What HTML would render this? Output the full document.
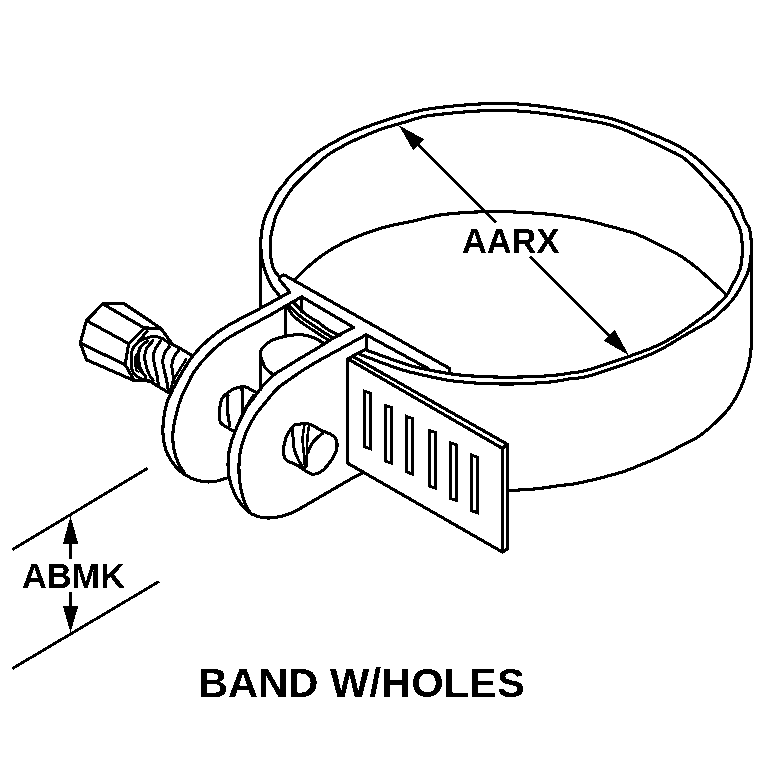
<!DOCTYPE html>
<html><head><meta charset="utf-8"><title>BAND W/HOLES</title>
<style>html,body{margin:0;padding:0;background:#fff}svg{display:block}</style></head>
<body><svg width="768" height="767" viewBox="0 0 768 767" shape-rendering="crispEdges" stroke-linejoin="round" stroke-linecap="round">
<defs><filter id="bw" x="-5%" y="-20%" width="110%" height="140%" color-interpolation-filters="sRGB"><feComponentTransfer><feFuncA type="discrete" tableValues="0 1"/></feComponentTransfer></filter></defs>
<rect width="768" height="767" fill="#fff"/>
<path d="M279.5,295.8 C278.2,294.1 273.7,289.1 271.6,285.7 C269.5,282.3 268.3,278.7 267.0,275.6 C265.7,272.5 264.7,269.9 263.8,267.0 C262.9,264.1 262.3,260.8 261.8,258.0 C261.3,255.2 261.2,252.5 261.0,250.0 C260.8,247.5 260.6,245.7 260.7,243.0 C260.8,240.3 261.0,237.1 261.4,234.0 C261.8,230.9 262.2,227.6 263.0,224.3 C263.8,221.1 264.8,217.6 266.0,214.5 C267.2,211.4 268.4,209.6 270.2,206.0 C272.0,202.4 274.3,197.1 276.8,193.2 C279.3,189.3 282.9,185.7 285.2,182.8 C287.5,179.9 285.8,180.5 290.4,176.0 C295.0,171.5 307.5,160.3 313.0,155.7 C318.5,151.1 320.1,150.6 323.4,148.4 C326.7,146.2 329.5,144.6 333.0,142.7 C336.5,140.8 341.0,138.4 344.3,136.7 C347.6,135.0 347.1,134.7 353.0,132.3 C358.9,129.9 371.7,125.0 380.0,122.1 C388.3,119.2 395.8,116.9 403.0,114.9 C410.2,112.9 416.3,111.3 423.0,110.0 C429.7,108.7 435.2,108.0 443.0,107.1 C450.8,106.2 461.0,105.2 470.0,104.6 C479.0,104.0 488.0,103.4 497.0,103.4 C506.0,103.4 514.3,103.6 524.0,104.4 C533.7,105.2 544.0,106.6 555.0,108.2 C566.0,109.8 580.8,112.5 590.0,114.2 C599.2,115.9 603.3,116.6 610.0,118.4 C616.7,120.2 619.2,120.8 630.0,125.1 C640.8,129.4 664.2,138.9 675.0,144.2 C685.8,149.5 688.9,152.3 695.0,156.9 C701.1,161.5 706.4,167.0 711.5,172.0 C716.6,177.0 722.0,182.8 725.6,187.0 C729.2,191.2 730.9,193.8 733.4,197.4 C735.9,201.1 738.8,205.1 740.7,208.9 C742.6,212.7 743.3,216.7 744.7,220.0 C746.1,223.3 748.3,225.4 749.3,228.5 C750.3,231.6 750.5,235.4 750.9,238.3 C751.3,241.2 751.5,244.3 751.6,246.1 C751.7,247.9 751.8,247.1 751.6,249.3 C751.4,251.5 751.1,255.7 750.6,259.1 C750.1,262.6 749.9,266.0 748.6,270.0 C747.3,274.0 744.8,279.1 742.9,283.0 C741.0,286.9 739.4,289.9 737.1,293.4 C734.8,296.9 732.0,300.5 729.0,303.8 C726.0,307.1 722.5,310.4 719.4,313.2 C716.3,316.0 716.5,316.8 710.6,320.5 C704.7,324.2 691.8,331.2 684.0,335.7 C676.2,340.2 670.7,344.1 664.0,347.7 C657.3,351.2 656.3,352.3 644.0,357.0 C631.7,361.7 602.3,372.1 590.0,375.7 C577.7,379.3 576.7,377.8 570.0,378.8 C563.3,379.9 559.7,381.1 550.0,382.0 C540.3,382.9 523.0,383.8 512.0,384.0 C501.0,384.2 491.0,383.7 484.0,383.5 C477.0,383.3 474.1,382.9 470.0,382.6 C465.9,382.3 463.9,382.1 459.6,381.6 C455.3,381.1 453.5,381.4 444.0,379.5 C434.5,377.6 417.1,374.3 402.7,370.0 C388.3,365.7 365.2,356.2 357.7,353.5" fill="none" stroke="#000" stroke-width="3.15" />
<path d="M279.5,277.0 C278.6,275.8 275.3,272.7 274.0,270.0 C272.7,267.3 272.1,264.0 271.5,261.0 C270.9,258.0 270.5,254.7 270.3,252.0 C270.1,249.3 270.1,248.1 270.2,245.1 C270.3,242.1 270.6,237.5 271.2,234.0 C271.8,230.5 272.6,227.6 273.5,224.3 C274.4,221.1 275.1,217.6 276.4,214.5 C277.6,211.4 279.2,209.2 281.0,206.0 C282.8,202.8 284.8,199.0 287.3,195.3 C289.8,191.6 291.2,188.9 296.0,183.8 C300.8,178.8 311.5,169.2 316.1,165.0 C320.7,160.8 320.6,160.5 323.4,158.3 C326.2,156.1 329.5,153.8 333.0,151.6 C336.5,149.4 341.0,147.1 344.3,145.3 C347.6,143.5 347.1,143.5 353.0,140.9 C358.9,138.3 371.7,132.6 380.0,129.6 C388.3,126.6 395.8,124.8 403.0,122.7 C410.2,120.6 416.3,118.2 423.0,116.7 C429.7,115.2 435.2,114.9 443.0,114.0 C450.8,113.1 461.0,112.1 470.0,111.5 C479.0,110.9 488.0,110.4 497.0,110.4 C506.0,110.4 514.3,110.6 524.0,111.4 C533.7,112.2 544.0,113.5 555.0,115.0 C566.0,116.5 580.8,119.0 590.0,120.7 C599.2,122.4 603.3,123.0 610.0,124.9 C616.7,126.8 619.2,127.5 630.0,132.2 C640.8,136.9 665.3,148.1 675.0,153.0 C684.7,157.9 683.8,158.2 688.0,161.6 C692.2,164.9 694.0,166.8 700.0,173.1 C706.0,179.4 718.9,193.5 724.0,199.5 C729.1,205.5 728.9,205.5 730.8,208.9 C732.7,212.3 734.0,216.5 735.6,220.0 C737.2,223.5 739.2,226.5 740.2,229.8 C741.2,233.1 741.4,236.3 741.8,239.6 C742.2,242.8 742.4,246.1 742.4,249.3 C742.4,252.6 742.2,255.7 741.8,259.1 C741.4,262.6 741.2,266.0 739.8,270.0 C738.4,274.0 735.6,278.9 733.5,283.0 C731.4,287.1 729.6,291.2 727.2,294.5 C724.9,297.8 722.4,299.9 719.4,302.8 C716.4,305.8 715.5,307.2 709.0,312.2 C702.5,317.2 688.0,327.6 680.5,332.6 C673.0,337.6 670.1,339.1 664.0,342.2 C657.9,345.3 656.3,346.5 644.0,351.0 C631.7,355.5 602.3,365.7 590.0,369.4 C577.7,373.1 576.7,372.1 570.0,373.1 C563.3,374.2 559.7,375.0 550.0,375.7 C540.3,376.4 523.0,377.0 512.0,377.2 C501.0,377.4 490.1,376.8 484.0,376.6 C477.9,376.4 479.4,376.5 475.3,376.2 C471.2,375.9 464.8,375.6 459.6,375.0 C454.4,374.4 452.1,374.2 444.0,372.7 C435.9,371.2 424.0,369.6 411.0,365.8 C398.0,362.0 373.5,352.6 366.0,350.0" fill="none" stroke="#000" stroke-width="3.15" />
<path d="M260.6,243.0 L260.6,305.5" fill="none" stroke="#000" stroke-width="3.15" />
<path d="M751.6,247.0 L751.6,334.0" fill="none" stroke="#000" stroke-width="3.15" />
<path d="M751.6,332.0 C751.6,333.3 751.8,336.4 751.6,340.0 C751.4,343.6 751.2,349.1 750.6,353.6 C750.0,358.1 749.2,362.4 748.0,367.1 C746.8,371.8 745.3,376.6 743.3,381.7 C741.3,386.8 738.6,392.7 736.0,397.4 C733.4,402.1 730.6,406.1 727.6,409.9 C724.6,413.7 722.8,415.7 718.2,420.0 C713.6,424.3 705.9,431.4 700.0,435.6 C694.1,439.8 689.0,441.6 682.6,445.0 C676.2,448.4 668.7,452.7 661.7,456.0 C654.8,459.3 647.9,462.0 640.9,464.8 C633.9,467.6 630.1,469.7 620.0,472.7 C609.9,475.7 590.4,480.6 580.0,482.8 C569.6,485.0 564.6,484.9 557.4,485.9 C550.1,486.9 544.6,488.0 536.5,488.8 C528.4,489.6 513.5,490.3 508.9,490.6" fill="none" stroke="#000" stroke-width="3.15" />
<path d="M295.1,279.7 C297.1,277.7 302.1,272.1 306.9,267.8 C311.7,263.6 318.2,258.1 323.9,254.2 C329.5,250.2 335.1,247.1 340.8,244.1 C346.5,241.1 352.2,238.7 357.8,236.4 C363.4,234.1 369.1,232.0 374.7,230.2 C380.3,228.4 385.8,226.8 391.7,225.4 C397.6,224.0 401.9,223.4 410.0,221.7 C418.1,220.0 430.0,216.6 440.0,215.0 C450.0,213.4 460.0,212.9 470.0,212.3 C480.0,211.7 488.3,211.3 500.0,211.5 C511.7,211.7 529.9,212.8 540.0,213.5 C550.1,214.2 553.9,214.9 560.9,215.8 C567.9,216.8 574.8,217.8 581.7,219.2 C588.7,220.6 596.2,222.8 602.6,224.4 C609.0,226.1 614.5,227.5 620.0,229.1 C625.5,230.7 630.4,231.9 635.6,233.8 C640.8,235.8 646.1,238.3 651.3,240.8 C656.5,243.3 661.7,245.8 666.9,248.6 C672.1,251.3 677.4,253.9 682.6,257.3 C687.8,260.7 693.0,264.7 698.2,269.0 C703.4,273.3 709.5,279.1 713.9,283.1 C718.3,287.1 723.1,291.5 724.9,293.2" fill="none" stroke="#000" stroke-width="3.15" />
<path d="M289.7,292.2 C286.8,293.8 276.9,299.3 272.0,302.0 C267.1,304.7 267.6,304.4 260.0,308.5 C252.4,312.6 235.3,321.1 226.7,326.3 C218.1,331.5 214.0,334.7 208.3,339.7 C202.6,344.7 197.2,350.2 192.5,356.3 C187.8,362.4 183.2,370.6 180.0,376.0 C176.8,381.4 175.1,384.6 173.0,389.0 C170.9,393.4 168.7,397.6 167.2,402.3 C165.7,407.0 164.5,412.0 163.8,417.3 C163.1,422.6 162.7,428.7 163.0,434.0 C163.3,439.3 164.1,444.6 165.5,449.0 C166.9,453.4 168.9,457.1 171.3,460.7 C173.7,464.3 176.4,467.8 179.7,470.7 C183.0,473.6 187.4,476.4 191.3,478.2 C195.2,480.0 199.1,480.9 203.0,481.5 C206.9,482.1 210.8,482.1 214.7,481.5 C218.6,480.9 224.4,478.8 226.3,478.2" fill="none" stroke="#000" stroke-width="3.15" />
<path d="M301.7,296.8 C299.4,298.1 292.8,301.9 287.8,304.8 C282.9,307.7 276.6,311.4 272.0,314.0 C267.4,316.6 267.6,316.3 260.0,320.5 C252.4,324.7 235.3,333.3 226.7,339.0 C218.1,344.7 213.9,349.0 208.3,354.7 C202.7,360.4 197.0,367.4 193.3,373.0 C189.6,378.6 188.0,383.9 186.0,388.0 C184.0,392.1 182.9,393.1 181.3,397.3 C179.7,401.5 177.8,407.7 176.5,413.0 C175.2,418.3 173.9,424.1 173.3,429.0 C172.7,433.9 172.6,437.9 173.0,442.3 C173.4,446.8 174.4,451.8 175.5,455.7 C176.6,459.6 178.3,462.9 179.7,465.7 C181.1,468.5 183.3,471.4 184.0,472.5" fill="none" stroke="#000" stroke-width="3.15" />
<path d="M353.7,327.5 C350.2,329.3 338.5,335.2 332.9,338.4 C327.3,341.6 325.9,343.0 320.0,346.6 C314.1,350.2 302.4,357.0 297.4,360.0 C292.4,363.0 293.6,362.4 290.0,364.7 C286.4,367.0 279.6,370.6 275.5,373.6 C271.4,376.6 267.8,380.7 265.6,382.8 C263.4,384.9 264.2,383.8 262.5,386.0 C260.8,388.2 257.2,393.3 255.2,396.0 C253.2,398.7 252.1,400.0 250.4,402.3 C248.7,404.6 247.6,405.1 245.0,410.0 C242.4,414.9 237.6,424.8 235.0,431.5 C232.4,438.2 230.5,444.2 229.3,450.0 C228.2,455.8 227.9,461.0 228.1,466.5 C228.3,472.0 228.9,477.6 230.5,483.0 C232.1,488.4 234.5,494.2 237.5,499.0 C240.5,503.8 244.9,508.8 248.5,511.8 C252.1,514.8 255.6,515.8 259.0,516.8 C262.4,517.8 265.1,518.1 269.0,518.0 C272.9,517.9 278.1,517.0 282.3,516.0 C286.5,515.0 288.2,514.7 294.0,511.8 C299.8,508.9 307.7,504.1 317.3,498.5 C326.9,492.9 343.8,483.0 351.8,478.5 C359.8,474.0 363.0,472.7 365.2,471.5" fill="none" stroke="#000" stroke-width="3.15" />
<path d="M366.2,334.8 C358.5,339.0 330.6,354.1 320.0,360.0 C309.4,365.9 307.6,367.3 302.6,370.5 C297.6,373.7 294.1,376.3 290.0,379.2 C285.9,382.1 281.2,385.1 278.1,387.8 C275.0,390.5 274.2,391.9 271.3,395.3 C268.4,398.7 263.5,404.8 260.9,408.0 C258.3,411.2 257.5,411.9 255.8,414.5 C254.1,417.1 252.3,420.2 250.7,423.3 C249.1,426.4 247.7,428.6 246.0,433.0 C244.3,437.4 241.8,444.4 240.6,450.0 C239.4,455.6 239.0,461.0 238.9,466.5 C238.8,472.0 239.3,478.1 239.9,483.0 C240.5,487.9 241.4,492.0 242.5,496.0 C243.6,500.0 245.2,504.1 246.5,506.8 C247.8,509.6 249.4,511.6 250.0,512.5" fill="none" stroke="#000" stroke-width="3.15" />
<path d="M286.5,276.2 L449.3,368.3 L449.3,373.0" fill="none" stroke="#000" stroke-width="3.15" />
<path d="M286.5,276.2 C286.0,276.0 284.5,274.9 283.5,275.0 C282.5,275.1 281.2,275.8 280.5,276.5 C279.8,277.2 278.9,278.1 279.5,279.5 C280.1,280.9 282.3,282.9 284.0,285.0 C285.7,287.1 288.8,291.0 289.7,292.2" fill="none" stroke="#000" stroke-width="3.15" />
<path d="M301.7,296.8 L353.7,327.5" fill="none" stroke="#000" stroke-width="3.15" />
<path d="M301.7,296.8 L301.7,312.0" fill="none" stroke="#000" stroke-width="3.15" />
<path d="M366.2,334.8 L428.0,368.5" fill="none" stroke="#000" stroke-width="3.15" />
<path d="M366.2,334.8 L366.2,349.5" fill="none" stroke="#000" stroke-width="3.15" />
<path d="M287.8,307.7 C288.7,309.0 290.8,312.9 293.0,315.3 C295.2,317.7 298.1,319.9 300.8,322.0 C303.5,324.1 306.0,325.7 309.2,327.8 C312.4,329.9 316.7,332.7 320.0,334.8 C323.3,336.9 327.3,339.4 328.8,340.3" fill="none" stroke="#000" stroke-width="3.0" />
<path d="M289.9,306.4 C290.8,307.3 293.4,310.1 295.6,312.1 C297.8,314.1 300.3,316.4 302.9,318.4 C305.5,320.4 308.4,322.2 311.3,324.1 C314.2,326.0 316.3,327.5 320.0,329.9 C323.7,332.3 331.2,336.9 333.5,338.3" fill="none" stroke="#000" stroke-width="3.0" />
<path d="M294.0,302.8 C295.2,304.1 298.9,308.2 301.4,310.5 C303.9,312.8 306.7,315.1 309.2,316.8 C311.7,318.6 314.7,319.9 316.5,321.0 C318.3,322.1 318.2,322.3 320.0,323.6 C321.8,324.9 324.3,327.2 327.2,329.0 C330.1,330.8 335.3,333.3 337.4,334.4 C339.4,335.5 339.1,335.3 339.5,335.5" fill="none" stroke="#000" stroke-width="3.15" />
<path d="M285.5,308.5 L285.5,335.0" fill="none" stroke="#000" stroke-width="3.15" />
<path d="M323.5,343.0 C322.2,342.3 318.1,339.8 315.5,338.6 C312.9,337.4 310.2,336.5 307.6,335.8 C305.0,335.1 302.2,334.7 299.6,334.6 C297.0,334.5 294.4,334.9 292.0,335.2 C289.6,335.5 288.8,335.4 285.4,336.3 C281.9,337.2 275.1,338.5 271.3,340.5 C267.5,342.5 264.2,346.1 262.4,348.3 C260.6,350.6 260.2,351.6 260.3,354.0 C260.4,356.4 261.9,359.9 262.9,362.4 C263.8,364.8 264.2,366.6 266.0,368.7 C267.8,370.8 272.2,373.9 273.4,375.0" fill="none" stroke="#000" stroke-width="3.15" />
<path d="M260.3,353.0 L260.3,389.5" fill="none" stroke="#000" stroke-width="3.15" />
<path d="M256.7,392.8 C254.8,391.8 248.3,387.7 245.2,386.8 C242.1,385.9 240.3,387.0 238.0,387.6 C235.7,388.2 233.9,388.4 231.3,390.2 C228.7,392.0 224.1,395.1 222.2,398.3 C220.3,401.5 220.0,405.5 219.7,409.5 C219.4,413.5 218.3,418.8 220.5,422.3 C222.7,425.8 230.9,429.3 233.0,430.7" fill="none" stroke="#000" stroke-width="3.15" />
<path d="M228.0,395.0 C227.9,397.5 227.2,404.9 227.5,410.0 C227.8,415.1 229.3,423.1 229.7,425.7" fill="none" stroke="#000" stroke-width="3.15" />
<path d="M242.0,387.7 L242.5,411.0" fill="none" stroke="#000" stroke-width="3.15" />
<path d="M253.6,395.5 L243.0,412.0" fill="none" stroke="#000" stroke-width="3.15" />
<path d="M347.8,358.8 L502.3,448.3 L502.3,552.0 L347.8,463.3 Z" fill="#fff" stroke="#000" stroke-width="3.15" />
<path d="M352.7,356.3 L507.5,444.4 L507.5,549.0 L502.3,552.0" fill="none" stroke="#000" stroke-width="3.15" />
<path d="M502.3,448.3 L507.5,444.2" fill="none" stroke="#000" stroke-width="3.15" />
<path d="M347.8,358.8 L366.2,349.0" fill="none" stroke="#000" stroke-width="3.15" />
<path d="M364.9,391.4 L370.6,393.4 L370.6,449.0 L364.9,447.0 Z" fill="none" stroke="#000" stroke-width="2.9" stroke-linejoin="miter"/>
<path d="M385.7,405.6 L391.4,407.6 L391.4,463.2 L385.7,461.2 Z" fill="none" stroke="#000" stroke-width="2.9" stroke-linejoin="miter"/>
<path d="M406.6,416.4 L412.3,418.4 L412.3,474.0 L406.6,472.0 Z" fill="none" stroke="#000" stroke-width="2.9" stroke-linejoin="miter"/>
<path d="M429.6,430.6 L435.3,432.6 L435.3,488.2 L429.6,486.2 Z" fill="none" stroke="#000" stroke-width="2.9" stroke-linejoin="miter"/>
<path d="M450.8,442.9 L456.5,444.9 L456.5,500.5 L450.8,498.5 Z" fill="none" stroke="#000" stroke-width="2.9" stroke-linejoin="miter"/>
<path d="M471.7,455.1 L477.4,457.1 L477.4,512.7 L471.7,510.7 Z" fill="none" stroke="#000" stroke-width="2.9" stroke-linejoin="miter"/>
<path d="M294.2,425.1 C295.6,424.9 299.9,424.0 302.5,423.8 C305.1,423.6 306.6,423.1 309.8,424.2 C313.0,425.3 318.1,428.9 321.6,430.6 C325.1,432.3 328.3,432.8 330.7,434.2 C333.1,435.6 334.7,436.8 335.8,438.8 C336.9,440.8 337.3,443.4 337.1,446.1 C336.9,448.8 335.8,452.3 334.4,455.2 C333.0,458.1 330.9,460.8 328.9,463.4 C326.9,466.0 325.1,468.9 322.5,470.7 C319.9,472.5 316.0,474.2 313.4,474.4 C310.8,474.6 309.7,473.2 307.0,471.7 C304.3,470.2 300.4,467.2 297.0,465.3 C293.6,463.4 288.9,462.0 286.8,460.5 C284.7,459.0 284.6,458.2 284.1,456.1 C283.6,454.0 283.4,450.6 283.6,447.9 C283.8,445.2 284.6,442.3 285.4,439.7 C286.2,437.1 286.9,434.8 288.4,432.4 C289.9,430.0 293.2,426.3 294.2,425.1" fill="none" stroke="#000" stroke-width="3.15" />
<path d="M292.6,428.0 C292.7,430.0 292.9,436.4 293.2,440.0 C293.5,443.6 293.6,446.6 294.4,449.8 C295.2,453.0 296.6,456.1 298.0,459.0 C299.4,461.9 301.8,466.1 302.5,467.5" fill="none" stroke="#000" stroke-width="3.0" />
<path d="M304.4,425.1 C304.1,427.4 302.7,434.2 302.6,438.8 C302.5,443.4 303.4,447.3 303.8,452.5 C304.2,457.7 305.0,466.9 305.2,469.8" fill="none" stroke="#000" stroke-width="2.6" />
<path d="M309.0,426.0 C308.7,428.0 307.7,433.9 307.4,438.0 C307.1,442.1 307.2,445.8 307.0,450.7 C306.8,455.6 306.4,464.4 306.3,467.1" fill="none" stroke="#000" stroke-width="2.6" />
<path d="M322.5,433.3 C321.4,434.2 317.9,437.0 316.1,438.8 C314.3,440.6 313.0,442.0 311.6,444.3 C310.2,446.6 308.5,451.1 307.9,452.5" fill="none" stroke="#000" stroke-width="3.2" />
<path d="M124.4,303.9 L102.7,303.9 L86.5,320.6 L80.2,343.1 L86.5,359.8 L134.2,380.6" fill="none" stroke="#000" stroke-width="3.15" />
<path d="M124.4,303.9 L160.8,328.3 L172.5,344.3 L184.0,350.6 L191.8,355.4" fill="none" stroke="#000" stroke-width="3.15" />
<path d="M102.7,303.9 L144.3,328.0" fill="none" stroke="#000" stroke-width="3.15" />
<path d="M86.5,320.6 L128.7,343.6" fill="none" stroke="#000" stroke-width="3.15" />
<path d="M80.2,343.1 L125.2,364.7" fill="none" stroke="#000" stroke-width="3.15" />
<path d="M160.8,328.3 L144.3,328.0 L128.7,343.6 L125.2,364.7 L134.2,380.6 L150.0,381.0 L157.8,386.2 L169.6,393.2" fill="none" stroke="#000" stroke-width="3.15" />
<path d="M147.2,331.2 L133.2,347.8" fill="none" stroke="#000" stroke-width="2.9" />
<path d="M133.2,347.8 C132.9,348.7 131.9,351.1 131.6,353.0 C131.3,354.9 131.1,356.5 131.2,359.2 C131.2,361.9 131.2,366.7 131.9,369.4 C132.7,372.1 133.5,373.8 135.7,375.6 C137.9,377.4 143.5,379.5 145.1,380.3" fill="none" stroke="#000" stroke-width="2.9" />
<path d="M133.2,347.8 C134.3,346.7 137.2,342.9 139.6,341.2 C142.0,339.5 144.9,338.5 147.5,337.7 C150.1,336.9 153.0,336.4 155.3,336.5 C157.7,336.6 159.8,337.3 161.6,338.1 C163.4,338.9 164.9,340.2 166.3,341.2 C167.7,342.2 169.4,343.5 170.0,344.0" fill="none" stroke="#000" stroke-width="2.9" />
<path d="M147.5,340.8 C146.4,341.8 142.7,344.6 141.2,346.7 C139.7,348.8 138.9,351.2 138.5,353.7 C138.1,356.2 138.5,359.0 138.9,361.6 C139.3,364.2 139.6,366.8 140.8,369.4 C142.0,372.0 145.1,375.9 145.9,377.2" fill="none" stroke="#000" stroke-width="3.0" />
<path d="M153.0,340.8 C151.9,342.1 148.1,345.6 146.7,348.3 C145.3,351.0 144.8,354.2 144.7,356.9 C144.6,359.6 145.2,361.8 145.9,364.7 C146.6,367.6 147.8,371.5 149.0,374.1 C150.2,376.7 152.3,379.3 153.0,380.3" fill="none" stroke="#000" stroke-width="3.0" />
<path d="M160.8,340.8 C159.9,342.2 156.6,346.3 155.3,349.0 C154.1,351.7 153.4,354.0 153.3,356.9 C153.2,359.8 154.3,363.3 154.9,366.3 C155.5,369.3 156.3,371.8 156.9,374.9 C157.5,378.0 158.2,383.3 158.4,385.0" fill="none" stroke="#000" stroke-width="3.0" />
<path d="M169.4,346.5 C168.6,347.6 165.8,350.6 164.7,353.0 C163.6,355.4 162.8,358.2 162.7,360.8 C162.6,363.4 163.3,365.6 163.9,368.6 C164.5,371.6 165.5,375.0 166.3,378.8 C167.1,382.6 168.1,389.4 168.5,391.5" fill="none" stroke="#000" stroke-width="3.0" />
<path d="M178.8,350.2 C178.0,351.3 175.2,354.5 174.1,356.9 C172.9,359.3 172.1,361.6 171.9,364.5 C171.7,367.4 172.5,371.3 172.9,374.1 C173.3,376.9 174.0,380.3 174.2,381.5" fill="none" stroke="#000" stroke-width="3.0" />
<path d="M135.7,354.5 C135.6,355.7 134.9,359.0 135.0,361.6 C135.1,364.2 135.6,368.5 136.1,370.2 C136.6,371.9 137.8,371.4 138.1,371.7" fill="none" stroke="#000" stroke-width="2.0" />
<path d="M186.0,359.3 L172.9,380.7 L169.6,393.2" fill="none" stroke="#000" stroke-width="2.6" />
<path d="M147.5,340.8 L141.2,346.7 L138.5,353.7 L138.9,361.6 L140.8,369.4 L145.9,377.2 L140.0,372.0 L136.5,366.0 L136.0,356.0 L139.0,347.0 Z" fill="#000" stroke="#000" stroke-width="1" />
<path d="M416.0,142.5 L496.2,222.7" fill="none" stroke="#000" stroke-width="2.9" stroke-linecap="butt"/>
<path d="M530.2,256.7 L611.0,337.5" fill="none" stroke="#000" stroke-width="2.9" stroke-linecap="butt"/>
<polygon points="398.8,125.3 424.4,139.4 413.1,150.1" fill="#000"/>
<polygon points="628.9,355.4 603.9,340.7 614.8,329.8" fill="#000"/>
<text x="461.9" y="252.5" font-size="34.4" font-weight="bold" fill="#000" filter="url(#bw)" font-family="'Liberation Sans', sans-serif">AARX</text>
<path d="M147.7,468.2 L12.5,549.5" fill="none" stroke="#000" stroke-width="2.9" stroke-linecap="butt"/>
<path d="M159.0,581.5 L12.5,668.5" fill="none" stroke="#000" stroke-width="2.9" stroke-linecap="butt"/>
<rect x="69" y="543" width="3.1" height="15.7" fill="#000"/>
<rect x="69" y="592" width="3.1" height="15" fill="#000"/>
<polygon points="70.5,516 78.3,544 62.9,544" fill="#000"/>
<polygon points="70.5,632.5 78.3,606 62.9,606" fill="#000"/>
<text x="21.9" y="587.6" font-size="34.4" font-weight="bold" fill="#000" filter="url(#bw)" font-family="'Liberation Sans', sans-serif">ABMK</text>
<text transform="translate(198.0,697.0) scale(1.043,1)" font-size="40" font-weight="bold" fill="#000" filter="url(#bw)" font-family="'Liberation Sans', sans-serif">BAND W/HOLES</text>
</svg></body></html>
